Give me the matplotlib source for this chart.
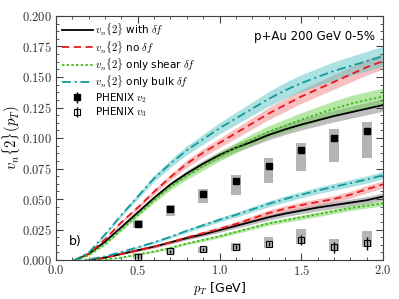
import numpy as np
import matplotlib
matplotlib.use("Agg")
import matplotlib.pyplot as plt
from matplotlib.ticker import MultipleLocator, FuncFormatter
from matplotlib.lines import Line2D

plt.rcParams['mathtext.fontset'] = 'cm'
plt.rcParams['font.family'] = 'DejaVu Sans'

# pT grid of the hydro curves
pt = [0.1, 0.2, 0.3, 0.4, 0.5, 0.6, 0.7, 0.8, 0.9, 1.0,
      1.1, 1.2, 1.3, 1.4, 1.5, 1.6, 1.7, 1.8, 1.9, 2.0]

# v2{2}
v2_full  = [-0.001, 0.005, 0.015, 0.027, 0.039, 0.051, 0.062, 0.071, 0.079, 0.086,
            0.092, 0.097, 0.1025, 0.107, 0.111, 0.1145, 0.118, 0.121, 0.124, 0.127]
v2_nodf  = [-0.001, 0.005, 0.017, 0.031, 0.043, 0.056, 0.068, 0.079, 0.088, 0.096,
            0.104, 0.112, 0.120, 0.127, 0.134, 0.140, 0.146, 0.152, 0.158, 0.163]
v2_shear = [-0.001, 0.004, 0.013, 0.025, 0.037, 0.049, 0.060, 0.069, 0.077, 0.085,
            0.092, 0.099, 0.105, 0.110, 0.115, 0.1195, 0.124, 0.128, 0.131, 0.134]
v2_bulk  = [-0.001, 0.006, 0.021, 0.037, 0.052, 0.067, 0.079, 0.090, 0.099, 0.108,
            0.116, 0.124, 0.132, 0.139, 0.145, 0.150, 0.155, 0.159, 0.163, 0.167]
v2_full_err  = [0.0, 0.0003, 0.0006, 0.001, 0.0013, 0.0017, 0.002, 0.0024, 0.0027, 0.003,
                0.0033, 0.0036, 0.0039, 0.0042, 0.0044, 0.0046, 0.0048, 0.0049, 0.005, 0.005]
v2_nodf_err  = [0.0, 0.0004, 0.0008, 0.0012, 0.0016, 0.002, 0.0025, 0.003, 0.0034, 0.0038,
                0.0042, 0.0046, 0.005, 0.0053, 0.0056, 0.0058, 0.006, 0.0062, 0.0064, 0.0065]
v2_shear_err = [0.0, 0.0004, 0.0008, 0.0012, 0.0016, 0.002, 0.0025, 0.003, 0.0034, 0.0038,
                0.0042, 0.0046, 0.005, 0.0054, 0.0058, 0.0061, 0.0064, 0.0067, 0.0069, 0.007]
v2_bulk_err  = [0.0, 0.0005, 0.001, 0.0015, 0.002, 0.0026, 0.0031, 0.0036, 0.0041, 0.0046,
                0.005, 0.0055, 0.006, 0.0065, 0.0069, 0.0072, 0.0075, 0.0078, 0.008, 0.0082]

# v3{2}
v3_full  = [-0.001, -0.0005, 0.002, 0.005, 0.008, 0.011, 0.0145, 0.018, 0.021, 0.0245,
            0.028, 0.0315, 0.035, 0.038, 0.0405, 0.043, 0.045, 0.047, 0.049, 0.052]
v3_nodf  = [-0.001, -0.0005, 0.002, 0.005, 0.008, 0.011, 0.0145, 0.0185, 0.022, 0.0255,
            0.0295, 0.034, 0.0385, 0.042, 0.045, 0.0475, 0.050, 0.0535, 0.058, 0.062]
v3_shear = [-0.001, -0.001, 0.0005, 0.002, 0.0045, 0.007, 0.010, 0.0135, 0.0165, 0.0195,
            0.023, 0.0265, 0.030, 0.0325, 0.035, 0.0375, 0.040, 0.0425, 0.0445, 0.0465]
v3_bulk  = [-0.001, 0.0005, 0.003, 0.0065, 0.0105, 0.0145, 0.019, 0.024, 0.0285, 0.033,
            0.037, 0.0415, 0.046, 0.050, 0.0535, 0.057, 0.060, 0.063, 0.066, 0.0695]
v3_err = [0.0, 0.0002, 0.0004, 0.0006, 0.0008, 0.001, 0.0012, 0.0014, 0.0016, 0.0018,
          0.002, 0.0022, 0.0024, 0.0025, 0.0026, 0.0027, 0.0028, 0.0029, 0.003, 0.003]
v3_shear_err = [0.0, 0.0002, 0.0003, 0.0005, 0.0006, 0.0008, 0.0009, 0.001, 0.0012, 0.0013,
                0.0014, 0.0015, 0.0016, 0.0017, 0.0018, 0.0019, 0.002, 0.002, 0.002, 0.002]

# PHENIX p+Au 0-5%
phx_pt = [0.5, 0.7, 0.9, 1.1, 1.3, 1.5, 1.7, 1.9]
phx_v2 = [0.0295, 0.0415, 0.0545, 0.065, 0.077, 0.090, 0.100, 0.106]
phx_v2_stat = [0.0005, 0.0006, 0.0007, 0.0008, 0.001, 0.0012, 0.0014, 0.0016]
phx_v2_sys_lo = [0.0265, 0.036, 0.0465, 0.053, 0.063, 0.073, 0.080, 0.084]
phx_v2_sys_hi = [0.0325, 0.045, 0.058, 0.070, 0.084, 0.096, 0.107, 0.113]
phx_v3 = [0.0027, 0.0071, 0.0088, 0.0104, 0.0131, 0.0164, 0.0104, 0.0137]
phx_v3_stat = [0.002, 0.0012, 0.0012, 0.0015, 0.002, 0.004, 0.0045, 0.0055]
phx_v3_sys_lo = [0.0008, 0.0047, 0.006, 0.0076, 0.0101, 0.0131, 0.007, 0.0109]
phx_v3_sys_hi = [0.0055, 0.0096, 0.011, 0.0139, 0.0189, 0.0254, 0.017, 0.0238]

fig = plt.figure(figsize=(3.99, 2.99), dpi=100)
ax = fig.add_axes([0.1404, 0.1304, 0.8196, 0.8161])

pt = np.array(pt)
red_ls = (0, (4, 2.5))
green_ls = (0, (1.3, 1.3))
cyan_ls = (0, (5, 2, 1.2, 2))
curves = [
    (v2_full, v2_full_err, 'k', '-', '#808080'),
    (v2_nodf, v2_nodf_err, '#e8181c', red_ls, '#f08080'),
    (v2_shear, v2_shear_err, '#3cb815', green_ls, '#70d050'),
    (v2_bulk, v2_bulk_err, '#139a9a', cyan_ls, '#58c4c4'),
    (v3_full, v3_err, 'k', '-', '#808080'),
    (v3_nodf, v3_err, '#e8181c', red_ls, '#f08080'),
    (v3_shear, v3_shear_err, '#3cb815', green_ls, '#70d050'),
    (v3_bulk, v3_err, '#139a9a', cyan_ls, '#58c4c4'),
]
for vals, err, col, ls, bcol in curves:
    vals = np.array(vals)
    err = np.array(err)
    ax.fill_between(pt, vals - err, vals + err, color=bcol, alpha=0.5, lw=0, zorder=1)
for vals, err, col, ls, bcol in curves:
    ax.plot(pt, vals, color=col, ls=ls, lw=1.3, zorder=3)

# systematic boxes
bw = 0.06
for x, lo, hi in zip(phx_pt, phx_v2_sys_lo, phx_v2_sys_hi):
    ax.add_patch(plt.Rectangle((x - bw / 2, lo), bw, hi - lo, color='#b4b4b4', lw=0, zorder=2))
for x, lo, hi in zip(phx_pt, phx_v3_sys_lo, phx_v3_sys_hi):
    ax.add_patch(plt.Rectangle((x - bw / 2, lo), bw, hi - lo, color='#b4b4b4', lw=0, zorder=2))

ax.errorbar(phx_pt, phx_v2, yerr=phx_v2_stat, fmt='s', color='k', ms=5, elinewidth=1, capsize=0, zorder=4)
ax.errorbar(phx_pt, phx_v3, yerr=phx_v3_stat, fmt='s', mfc='none', mec='k', color='k', ms=4,
            mew=0.8, elinewidth=1, capsize=0, zorder=4)

ax.set_xlim(0, 2.0)
ax.set_ylim(0, 0.2)
ax.xaxis.set_major_locator(MultipleLocator(0.5))
ax.xaxis.set_minor_locator(MultipleLocator(0.1))
ax.yaxis.set_major_locator(MultipleLocator(0.025))
ax.yaxis.set_minor_locator(MultipleLocator(0.00625))
ax.xaxis.set_major_formatter(FuncFormatter(lambda v, p: r'$%.1f$' % v))
ax.yaxis.set_major_formatter(FuncFormatter(lambda v, p: r'$%.3f$' % v))
ax.tick_params(which='both', direction='in', top=True, right=True, labelsize=9, color='#404040',
               labelcolor='#303030')
ax.tick_params(which='major', length=5, width=0.8, pad=3)
ax.tick_params(which='minor', length=2.5, width=0.6)
for s in ax.spines.values():
    s.set_color('#404040')
    s.set_linewidth(0.8)

ax.set_xlabel(r'$p_T$ [GeV]', fontsize=9, labelpad=1)
ax.set_ylabel(r'$v_n\{2\}(p_T)$', fontsize=10.5)
ax.yaxis.set_label_coords(-0.102, 0.5)

ax.text(0.975, 0.915, 'p+Au 200 GeV 0-5%', transform=ax.transAxes, ha='right', va='center', fontsize=8.5)
ax.text(0.04, 0.075, 'b)', transform=ax.transAxes, ha='left', va='center', fontsize=9)

handles = [
    Line2D([], [], color='k', ls='-', lw=1.3),
    Line2D([], [], color='#e8181c', ls=red_ls, lw=1.3),
    Line2D([], [], color='#3cb815', ls=green_ls, lw=1.3),
    Line2D([], [], color='#139a9a', ls=cyan_ls, lw=1.3),
    ax.errorbar([], [], yerr=[], fmt='s', color='k', ms=5, elinewidth=1, capsize=0),
    ax.errorbar([], [], yerr=[], fmt='s', mfc='none', mec='k', color='k', ms=4, mew=0.8,
                elinewidth=1, capsize=0),
]
labels = [r'$v_n\{2\}$ with $\delta f$', r'$v_n\{2\}$ no $\delta f$',
          r'$v_n\{2\}$ only shear $\delta f$', r'$v_n\{2\}$ only bulk $\delta f$',
          r'PHENIX $v_2$', r'PHENIX $v_3$']
ax.legend(handles, labels, loc='upper left', frameon=False, fontsize=7.5, handlelength=3.0,
          handletextpad=0.2, labelspacing=0.08, borderaxespad=0.15)

fig.savefig('out.png', dpi=100)
